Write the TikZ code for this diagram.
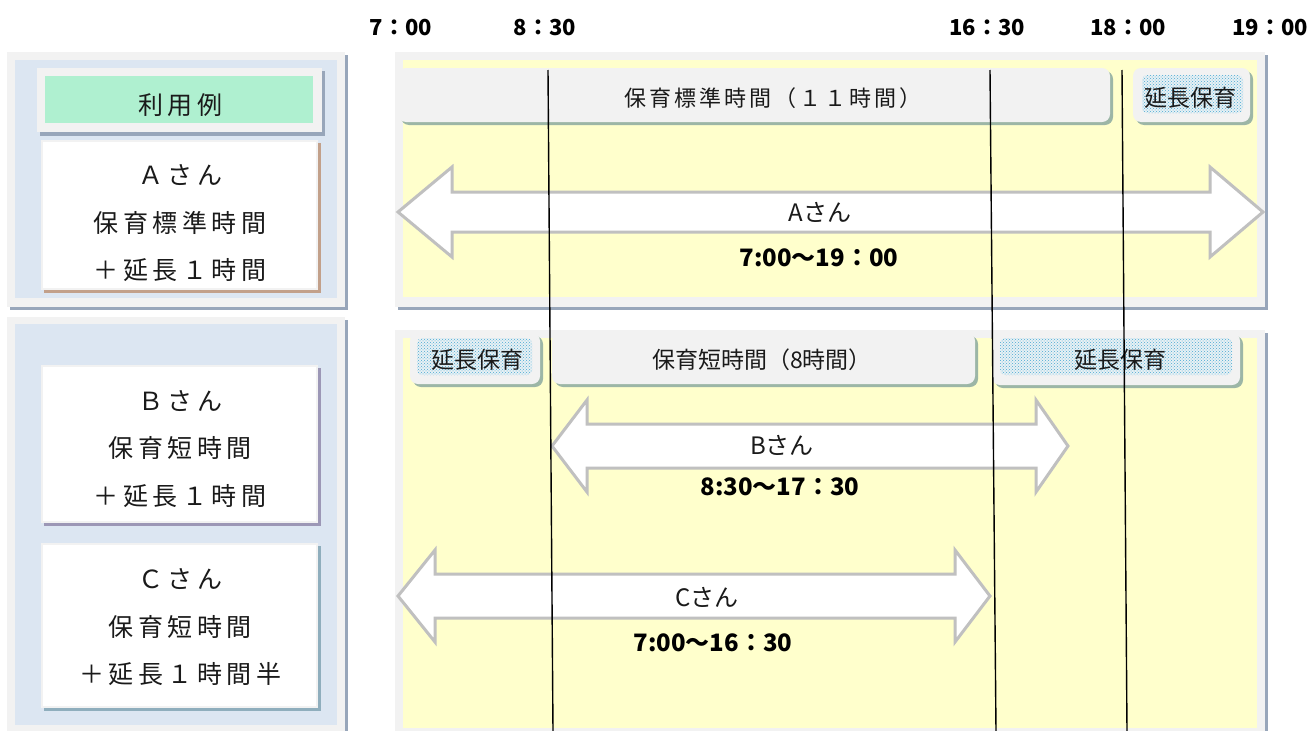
\documentclass[tikz,border=0pt]{standalone}
\usepackage{fontspec}
\setmainfont{Noto Sans CJK JP}
\newfontfamily\jpls[LetterSpace=18]{Noto Sans CJK JP}
\newfontfamily\jphd[LetterSpace=14]{Noto Sans CJK JP}
\usetikzlibrary{patterns}
\definecolor{panelgray}{HTML}{F2F2F2}
\definecolor{panelblue}{HTML}{DCE6F2}
\definecolor{shadowblue}{HTML}{98A6BA}
\definecolor{paleyellow}{HTML}{FFFFCC}
\definecolor{mint}{HTML}{AFF0D0}
\definecolor{tabshadow}{HTML}{9CB6A6}
\definecolor{dotblue}{HTML}{4AA8D2}
\definecolor{dotback}{HTML}{E8F1F4}
\definecolor{arrowgray}{HTML}{C0C0C0}
\definecolor{brownshadow}{HTML}{C2A08A}
\definecolor{purpleshadow}{HTML}{9C97B6}
\definecolor{tealshadow}{HTML}{8FAEBD}
\definecolor{textdark}{HTML}{1A1A1A}
\newcommand\dblarrow[7]{%
  \draw[arrowgray, line width=3pt, fill=white, line join=miter]
    (#1,#5) -- (#2,{#5-#7}) -- (#2,{#5-#6}) -- (#3,{#5-#6}) -- (#3,{#5-#7})
    -- (#4,#5) -- (#3,{#5+#7}) -- (#3,{#5+#6}) -- (#2,{#5+#6}) -- (#2,{#5+#7}) -- cycle;}
\begin{document}
\begin{tikzpicture}[x=1pt,y=-1pt,
  sidetxt/.style={text=textdark, font=\jpls\fontsize{25}{29}\selectfont, inner sep=0pt},
  tabtxt/.style={text=textdark, font=\fontsize{23}{27}\selectfont, inner sep=0pt},
  exttxt/.style={text=textdark, font=\fontsize{23}{27}\selectfont, inner sep=0pt},
  arrtxt/.style={text=textdark, font=\fontsize{24}{28}\selectfont, inner sep=0pt},
  timetxt/.style={text=black, font=\bfseries\fontsize{24}{28}\selectfont, inner sep=0pt},
  hourtxt/.style={text=black, font=\bfseries\fontsize{22}{26}\selectfont, inner sep=0pt},
  tab/.style={fill=panelgray, rounded corners=8pt},
  tabshad/.style={fill=tabshadow, rounded corners=8pt},
  dots/.style={fill=dotback, rounded corners=5pt},
  dotpat/.style={pattern=crosshatch dots, pattern color=dotblue, rounded corners=5pt},
  timeline/.style={line width=1.4pt, black}]
\useasboundingbox (0,0) rectangle (1310,731);
\fill[white] (0,0) rectangle (1310,731);

% ---------- left panels ----------
\fill[shadowblue] (10,55) rectangle (348,310);
\fill[panelgray] (7,52) rectangle (345,307);
\fill[panelblue] (15,60) rectangle (337,298);
\fill[shadowblue] (40,71) rectangle (325,136);
\fill[panelgray] (37,68) rectangle (322,132);
\fill[mint] (45,76) rectangle (313,123);
\fill[brownshadow] (44,143) rectangle (321,293);
\fill[panelgray] (41,140) rectangle (318,290);
\fill[white] (43,142) rectangle (316,288);

\fill[shadowblue] (10,320) rectangle (348,731);
\fill[panelgray] (7,317) rectangle (345,731);
\fill[panelblue] (15,324) rectangle (337,725);
\fill[purpleshadow] (44,368) rectangle (321,526);
\fill[panelgray] (41,365) rectangle (318,523);
\fill[white] (43,367) rectangle (316,521);
\fill[tealshadow] (44,546) rectangle (321,711);
\fill[panelgray] (41,543) rectangle (318,708);
\fill[white] (43,545) rectangle (316,706);

\node[sidetxt] (rei) at (180,105) {利用例};
\node[sidetxt] (a1) at (180,175) {Ａさん};
\node[sidetxt] (a2) at (180,223) {保育標準時間};
\node[sidetxt] (a3) at (180,270) {＋延長１時間};
\node[sidetxt] (b1) at (180,401) {Ｂさん};
\node[sidetxt] (b2) at (180,448) {保育短時間};
\node[sidetxt] (b3) at (180,496) {＋延長１時間};
\node[sidetxt] (c1) at (180,579) {Ｃさん};
\node[sidetxt] (c2) at (180,627) {保育短時間};
\node[sidetxt] (c3) at (180,674) {＋延長１時間半};

% ---------- right panels ----------
\fill[shadowblue] (398,55) rectangle (1268,310);
\fill[panelgray] (395,52) rectangle (1265,307);
\fill[paleyellow] (403,60) rectangle (1257,297);
\fill[shadowblue] (398,333) rectangle (1268,731);
\fill[panelgray] (395,330) rectangle (1265,731);
\fill[paleyellow] (403,338) rectangle (1257,728);

% top tabs
\fill[tabshad] (401,71) rectangle (1113,125);
\fill[tab] (398,68) rectangle (1110,122);
\fill[tabshad] (1136,71) rectangle (1253,125);
\fill[tab] (1133,68) rectangle (1250,122);
\fill[dots] (1142,75) rectangle (1243,113);
\path[dotpat] (1142,75) rectangle (1243,113);
\node[tabtxt, font=\jphd\fontsize{22}{26}\selectfont] (std) at (773,98) {保育標準時間（１１時間）};
\node[exttxt] (extA) at (1190,98) {延長保育};

% bottom tabs
\fill[tabshad] (413,336) rectangle (543,387);
\fill[tab] (410,333) rectangle (540,384);
\fill[dots] (417,338) rectangle (532,375);
\path[dotpat] (417,338) rectangle (532,375);
\fill[tabshad] (555,336) rectangle (978,387);
\fill[tab] (552,333) rectangle (975,384);
\fill[tabshad] (995,336) rectangle (1243,388);
\fill[tab] (992,333) rectangle (1240,385);
\fill[dots] (1000,338) rectangle (1232,375);
\path[dotpat] (1000,338) rectangle (1232,375);
\node[exttxt] (extB1) at (477,360) {延長保育};
\node[tabtxt] (short) at (762,360) {保育短時間（8時間）};
\node[exttxt] (extB2) at (1120,360) {延長保育};

% ---------- arrows ----------
\dblarrow{398}{452}{1210}{1263}{212}{20}{45}
\dblarrow{552}{587}{1036}{1068}{446}{22}{46}
\dblarrow{398}{435}{955}{990}{596}{22}{46}
\node[arrtxt] (aA) at (820,212) {Aさん};
\node[timetxt] (tA) at (819,258) {7:00〜19：00};
\node[arrtxt] (aB) at (782,445) {Bさん};
\node[timetxt] (tB) at (780,487) {8:30〜17：30};
\node[arrtxt] (aC) at (707,597) {Cさん};
\node[timetxt] (tC) at (713,643) {7:00〜16：30};

% ---------- time lines ----------
\coordinate (l1t) at (548,70);  \coordinate (l1b) at (553,731);
\coordinate (l2t) at (990,70);  \coordinate (l2b) at (996,731);
\coordinate (l3t) at (1122,70); \coordinate (l3b) at (1127,731);
\draw[timeline] (l1t) -- (l1b);
\draw[timeline] (l2t) -- (l2b);
\draw[timeline] (l3t) -- (l3b);

\node[hourtxt] (h7) at (401,28) {7：00};
\node[hourtxt] (h830) at (545,28) {8：30};
\node[hourtxt] (h1630) at (987,28) {16：30};
\node[hourtxt] (h18) at (1128,28) {18：00};
\node[hourtxt] (h19) at (1270,28) {19：00};
\end{tikzpicture}
\end{document}
